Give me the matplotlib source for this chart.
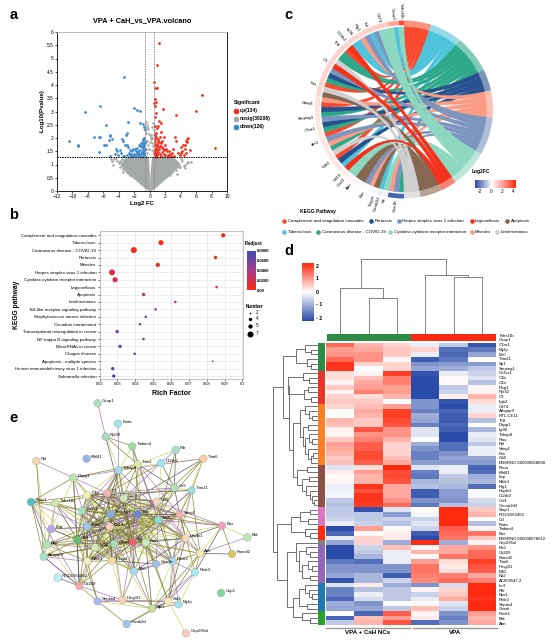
#script to rebuild the multi panel figure: volcano, KEGG bubbles, chord, heatmap and network.

from itertools import combinations

import numpy as np
import matplotlib
matplotlib.use("Agg")
import matplotlib.pyplot as plt
from matplotlib.colors import LinearSegmentedColormap
from matplotlib.path import Path
from matplotlib.patches import PathPatch, Wedge

plt.rcParams["font.family"] = ["Liberation Sans", "DejaVu Sans"]

W, H = 556, 642

# ---- a: volcano
up_x = [1.2, .95, .6, .65, .95, 6.7, .65, .87, .56, .65, 5.97, 1.77, 3.46, .75, .65, 1.2, 1.4, 1.1, .7, .95, 1.5, .87, 1.3, 1.86,
        3.33, 4.9, 4.76, 4.63, 3.38, 4.33, 4.55, 8.44, 5.2, 3.0, 2.0, 1.6, 1.1, .8, .7, 1.0, 1.3, 1.7, 2.2, 2.6, 3.7, 4.0, 4.2, 4.5, 4.1,
        3.9, 4.7, .65, .7, .75, .8, .9, 1.0, 1.1, 1.2, 1.35, 1.5, 1.6, 1.8, 2.0, 2.3, 2.5, 2.7, 2.9, .62, .68, .72, .85, .95, 1.05, 1.25,
        1.45, 1.55, 1.9, .6, .66, .78, .88, .98, 1.15, 2.1, 2.4, 3.1, 4.4, 4.8]
up_y = [5.57, 4.77, 4.1, 3.88, 3.87, 3.62, 3.48, 3.34, 3.32, 3.19, 3.03, 3.09, 2.88, 2.94, 2.79, 2.65, 2.56, 2.46, 2.46, 2.37, 2.24, 2.18, 2.05, 2.05,
        2.03, 2.0, 1.95, 1.87, 1.9, 1.74, 1.72, 1.61, 1.55, 1.6, 1.75, 1.9, 1.95, 2.05, 1.85, 1.75, 1.7, 1.6, 1.5, 1.4, 1.42, 1.45, 1.52, 1.6, 1.65,
        1.35, 1.45, 1.35, 1.5, 1.62, 1.42, 1.55, 1.35, 1.48, 1.58, 1.38, 1.32, 1.48, 1.38, 1.34, 1.35, 1.5, 1.33, 1.42, 1.72, 1.95, 2.1, 1.32, 1.68, 1.87, 1.84,
        1.8, 1.65, 1.55, 1.42, 1.6, 1.3, 1.78, 1.38, 1.66, 1.6, 1.32, 1.33, 1.34, 1.85]
down_x = [-3.3, -6.5, -8.35, -2.03, -1.6, -1.3, -5.7, -2.86, -1.3, -.87, -.8, -.65, -10.4, -9.3, -9.25, -7.27, -6.6, -6.5, -5.2, -5.1, -5.3,
          -4.9, -5.9, -5.7, -6.6, -5.2, -3.0, -3.1, -3.6, -3.4, -4.4, -4.3, -4.5, -4.1, -3.9, -3.7, -3.5, -3.2, -3.0, -2.8, -2.6, -2.4, -2.2,
          -2.0, -1.8, -1.6, -1.4, -1.2, -1.0, -.8, -.7, -.6, -.9, -1.1, -1.3, -1.5, -1.7, -1.9, -2.1, -2.3, -2.5, -2.7, -2.9, -3.3, -.65, -.75, -.85,
          -.95, -1.05, -.62, -.72, -.82, -.92, -1.02, -1.15, -.68, -.78, -.88, -1.25, -1.45, -2.05, -2.35, -1.55, -1.75, -.7, -.6, -.9]
down_y = [4.31, 3.19, 2.99, 3.13, 3.06, 3.01, 2.5, 2.6, 2.58, 2.53, 2.43, 2.33, 1.89, 1.73, 1.71, 2.05, 2.03, 2.03, 2.12, 2.06, 1.93,
          1.95, 1.74, 1.74, 1.49, 1.32, 2.2, 2.13, 1.97, 1.87, 1.6, 1.5, 1.4, 1.35, 1.55, 1.42, 1.32, 1.75, 1.72, 1.65, 1.55, 1.4, 1.6,
          1.35, 1.5, 1.62, 1.45, 1.55, 1.65, 1.4, 1.75, 1.9, 1.32, 1.38, 1.7, 1.35, 1.42, 1.58, 1.35, 1.5, 1.35, 1.45, 1.35, 1.33, 1.6, 1.55, 1.8,
          1.48, 1.72, 1.33, 1.46, 1.62, 1.87, 1.43, 1.82, 1.38, 1.68, 1.55, 1.32, 1.73, 1.4, 1.33, 1.52, 1.37, 2.0, 1.8, 1.95]
grey_x = [-.5, -.4, -.3, -.55, -.45, -.2, -.15, .1, .2, .3, .45, .5, .55, .35, .15, -.35, -.25, .25, .4, -.5, .5, -.1, .05, .3, -.3,
          -5.2, -5.0, -4.9, -4.6, -4.4, -4.2, -4.0, -4.7, -3.8, -3.6, -3.3, -3.1, -3.9, -3.4, -3.0, -2.8, -2.9,
          5.0, 4.8, 4.6, 4.4, 4.2, 4.0, 3.8, 3.6, 3.3, 3.1, 3.9, 3.4, 3.0, 2.8, 2.9, 2.6, -2.6, 4.5, 5.3,
          -2.2, -1.8, -1.4, -1.0, 1.0, 1.4, 1.8, 2.2, -3.5, 3.5, -2.4, 2.4]
grey_y = [2.62, 2.5, 2.42, 2.3, 2.2, 2.35, 2.15, 2.12, 2.05, 2.4, 2.55, 2.3, 2.15, 2.0, 1.95, 1.9, 1.75, 1.8, 1.7, 1.6, 1.5, 1.6, 1.85, 1.55, 1.45,
          1.28, 1.22, 1.15, 1.2, 1.25, 1.12, 1.05, 1.0, 1.15, 1.22, 1.08, 1.0, .9, .82, .92, .8, .72,
          1.08, 1.05, .98, .95, 1.12, 1.2, 1.0, .92, 1.05, .85, .9, .78, .82, .75, .7, .62, .62, .85, 1.1,
          1.27, 1.24, 1.28, 1.25, 1.26, 1.22, 1.28, 1.2, .7, .66, 1.1, 1.05]
# dense grey mass of the volcano, edges read at these heights
core_y = [0, .1, .25, .45, .65, .85, 1.05, 1.3]
core_left = [0, -.6, -1.2, -2.0, -2.9, -3.5, -3.9, -3.0]
core_left_in = [0, 0, 0, -.02, -.05, -.08, -.12, -.2]
core_right = [0, .6, 1.2, 2.0, 2.8, 3.4, 3.9, 3.0]
core_right_in = [0, 0, 0, .02, .05, .1, .15, .25]

# ---- b: KEGG bubbles
pathways_b = ["Complement and coagulation cascades", "Tuberculosis", "Coronavirus disease - COVID-19", "Pertussis", "Measles",
              "Herpes simplex virus 1 infection", "Cytokine-cytokine receptor interaction", "Legionellosis", "Apoptosis",
              "Leishmaniasis", "Toll-like receptor signaling pathway", "Staphylococcus aureus infection", "Circadian entrainment",
              "Transcriptional misregulation in cancer", "NF-kappa B signaling pathway", "MicroRNAs in cancer", "Chagas disease",
              "Apoptosis - multiple species", "Human immunodeficiency virus 1 infection", "Salmonella infection"]
rich_factor = [.0892, .0544, .0392, .0849, .0526, .0270, .0287, .0855, .0447, .0624, .0514, .0459, .0427, .0299, .0446, .0315, .0397, .0833, .0274, .0280]
padj = [.002, .003, .003, .006, .008, .017, .02, .022, .028, .04, .055, .058, .06, .062, .062, .066, .066, .07, .072, .075]
number = [5, 6, 7, 4, 5, 7, 6, 3, 4, 3, 3, 3, 3, 4, 3, 4, 3, 2, 4, 4]
number_legend = [2, 4, 5, 7]

# ---- c: chord
chord_names = ["Complement and coagulation cascades", "Tuberculosis", "Coronavirus disease - COVID-19", "Pertussis", "Measles",
               "Herpes simplex virus 1 infection", "Cytokine-cytokine receptor interaction", "Legionellosis", "Apoptosis", "Leishmaniasis"]
chord_keys = ["COM", "TUB", "COV", "PER", "MEA", "HER", "CYT", "LEG", "APO", "LEI"]
chord_colors = ["#F9492D", "#4DC4DC", "#2DA888", "#27508E", "#FA9C85", "#7C95BE", "#8DD8C0", "#F5301A", "#85674F", "#CFCFCF"]
draw_order = ["COM", "TUB", "COV", "PER", "MEA", "HER", "CYT", "APO", "LEI", "LEG"]
# links in gene order, clockwise from the bottom of the circle
gene_links = "COV HER MEA CYT TUB APO MEA HER APO APO CYT CYT LEG TUB PER COM LEI COV MEA HER COM COV PER HER COV PER COM MEA APO LEI COM COV PER HER LEG LEI COV COV COM LEG TUB TUB MEA HER TUB HER CYT CYT CYT TUB CYT".split()
gene_names = ["Gas1b", "Prl", "Camk2d", "Sugpn", "Bax", "Atm", "Cxcl1", "Cd14", "Itgb2", "dbr1", "C3ar1", "Serping1", "Sting1", "Fos", "C3",
              "Tlr8", "Il12rb2", "Ly96", "Rig1", "Tnf", "Cd74", "Casp1", "Tnfrsf1b"]
gene_counts = [3, 1, 1, 1, 3, 2, 1, 1, 5, 3, 2, 2, 3, 4, 5, 2, 1, 2, 1, 2, 3, 2, 1]
gene_fc = [-2.6, -.2, -.3, -.1, .1, .2, .3, .3, .5, .5, .5, .6, .6, .9, .9, .9, .8, .9, .8, 1.0, 1.0, 1.8, 3.6]

# ---- d: heatmap
heat_rows = [
    [1.4, .7, .4, -.2, -.6, -1.9], [.9, .8, .5, .4, -1.6, -1.5], [1.0, 1.0, .5, -.2, -1.7, -1.0], [1.4, 1.0, .05, -1.8, -1.5, 0],
    [1.9, .4, .4, -1.2, -1.1, -1.1], [1.9, 0, .4, -1, -.9, -.6], [.3, .1, 1.8, -1.9, -.2, -.5], [.3, .6, 1.2, -2, .05, -.3],
    [.1, .8, 1.2, -2, .05, -.7], [.5, .9, .9, -2, -.6, .1], [.1, 1.2, .9, -2, -.5, .1], [.4, .3, .7, -2, .15, .7],
    [.5, .5, .02, -1.2, -1.9, .3], [.4, .6, .9, -1.2, -2, -.2], [.02, .8, 1.8, -1.4, -1.7, -.2], [.02, .7, 1.8, -.9, -1.8, .4],
    [.7, .5, 1.7, -1.0, -1.8, -.7], [.6, .5, 1.6, -1.4, -1.7, 0], [.15, 1.6, 1.0, -.3, -1.8, -.8], [.1, 1.0, 1.0, -.3, -2, -.2],
    [.5, 1.2, .7, 0, -2, -.3], [.9, 1.5, .4, -.9, -1.6, -.6], [.8, 1.5, .4, -1.2, -1.6, -.2], [.7, 1.7, .4, -1.4, -1.2, -.2],
    [.5, 1.7, .6, -1.4, -1, -1], [.6, 1.5, .8, -1.1, -1.1, -1.1], [-.3, .3, 2, -.3, -.2, -1.7], [.2, .9, 1.7, -1.4, -.2, -1.6],
    [.05, .7, 1.7, -1.5, -.6, -.9], [.1, .7, 1.6, -.8, -.7, -.8], [-.2, 1.9, .8, -.7, -.8, -1.6], [-.15, 1.6, .8, -1.8, -1.1, 0],
    [-.1, 1.9, .8, -1.8, -1.1, -.05], [-.6, 1.9, 1.0, -1.2, -1.2, -.4], [-.7, 1.8, 1.4, -1.5, -.7, -.5], [-.6, -1.9, -.3, .05, 2, .5],
    [-.6, -.6, -1.1, -.1, 2, .7], [-.5, -.6, -.5, -.5, 2, .05], [-.2, -.5, -.7, -.3, 2, -.7], [-2, .9, .05, -.5, 1.5, .1],
    [-1.7, .05, .15, -1.8, 1.4, 1.3], [-.2, .4, .2, -2, 1.3, .5], [-1.0, .4, -.9, 2, -.9, .1], [-2, -.5, .6, .05, .8, 1.0],
    [-2, -.6, -.2, .7, .8, 1.4], [-2, -.8, -.2, .05, 1.3, 1.4], [-1.5, -1.6, -.2, .9, .3, 1.8], [-1.2, -1.2, -1.2, 1.3, .2, 1.6],
    [-1.2, -1.2, -1.2, 1.3, .3, 1.5], [-1, -.8, -1.8, 1.2, 1.2, .8], [-1.9, -.8, -.5, 1.1, 1.4, 1.2], [-.3, .2, -.9, -1.2, -.4, 2],
    [-1.4, -.7, -.6, .1, .4, 2], [-1.4, -.2, -.6, -.5, .5, 2], [-1.7, -.4, -.6, -.2, .8, 1.9], [-.9, -1.2, .02, .05, -.3, 2],
    [-1.0, -1.0, -.6, .6, -.5, 2], [.02, -1.7, 1.5, .1, -1.2, .9], [-1.7, .6, .9, .2, -1.4, .7], [-.6, .7, 1.6, -1.6, -1.2, .8],
]
heat_labels = ["Tnfrsf1b", "Casp1", "C3ar1", "Mylip", "Mlkl", "Trim21", "Sp1", "Serping1", "Cx3cr1", "C1b", "C4a", "Plxg1", "Rpl32", "C3", "Itgb2", "Cd74",
               "Arhgap9", "RT1-CE11", "Tlr8", "Dapp1", "Ly96", "Tnfaip8", "Plau", "Ppl", "Sting1", "Fos", "Cd4", "ENSRNOG00000068830", "Rhoa", "Klhl41", "Lbp",
               "Nfkb1", "Rig1", "Hapln1", "Il12rb2", "Cul1", "Cacna2d3", "Stap1", "RGD1565462", "Ccl", "Fmta", "Tmbim4", "Bax", "ENSRNOG00000078012", "Cep295nl",
               "Mx1", "Cd209", "Fancd2", "Trim6", "Hmg1l1", "Mfi1", "Nlt2", "AC058547.2", "Ier3", "Ptlr", "Nos1", "Prdx3", "Septin4", "Oasrk", "Rock1", "Btd", "Atm"]
group_names = ["VPA + CaH NCs", "VPA"]
side_colors = ["#2E8B45", "#E8352B", "#FF7F27", "#8C5246", "#DE73C0", "#FF2A10", "#7F7F7F", "#9467BD", "#1F77B4", "#2CA02C"]
side_sizes = [6, 7, 13, 9, 4, 3, 1, 8, 6, 3]

# trees as (height in px, left, right), leaves are column or row numbers
col_tree = (75, (46, 0, (36, 1, 2)), (59, 3, (57, 4, 5)))
g1 = (21, (12, 0, (6, 1, 2)), (10, 3, (6, 4, 5)))
g2 = (29, (14, 6, (8, 7, 8)), (13, (9, 9, 10), (6, 11, 12)))
g3 = (17, (12, 13, (8, 14, (5, 15, 16))), (14, (9, 17, 18), (12, (8, 19, (5, 20, 21)), (9, 22, (6, (4, 23, 24), 25)))))
g4 = (20, (10, 26, 27), (15, (8, 28, 29), (11, 30, (7, 31, (5, 32, (3, 33, 34))))))
g5 = (17, (7, 35, 36), (9, 37, 38))
g6 = (12, 39, (7, 40, 41))
g7 = (21, 42, (18, (11, 43, (7, 44, 45)), (15, (9, 46, (5, 47, 48)), (7, 49, 50))))
g8 = (18, (12, 51, (8, 52, (5, 53, 54))), (10, 55, 56))
g9 = (15, 57, (7, 58, 59))
row_tree = (44, (34, g1, (28, g2, (24, g3, g4))), (40, (26, g5, g6), (30, g7, (24, g8, g9))))

# ---- e: network, node places read in px of the picture crop
node_names = ["Gsap1", "Fmta", "Rpl30", "Tmbim4", "Pdr", "Trim6", "Ppl", "Klhl41", "Il12rb2", "Trim2", "Tnfaip8", "Dapp1", "Ca5", "Trim21", "C4b", "C3", "Cd74", "Mfi1",
              "Stap1", "Tnfrsf1b", "Cx3r1", "Serping1", "Tlnr", "Mx1", "Sting1", "Itgb2", "Cd14", "Bax", "Btd", "Lbp", "Tlr2", "Hapln1", "Nlrp", "Ly96", "C3ar1", "Tnf", "Fos",
              "Arhgap9", "Atm", "Fancd2", "Nfkb1", "Casp4", "Mlkl", "Gas1b", "Rock1", "Prdx3", "RGD1565462", "Cd209", "Usp1", "Septin4", "Hmg1l1", "Spi1", "Xaf1", "Mylip", "Camk2d", "Cep295nl"]
node_x = [293, 354, 317, 397, 527, 610, 109, 260, 483, 413, 356, 220, 523, 575, 261, 322, 371, 470, 93, 166, 246, 332, 413, 475, 539, 262, 329, 666, 742, 154, 232, 557, 140, 285, 343, 398, 437,
          131, 600, 696, 262, 335, 402, 468, 517, 585, 173, 238, 663, 293, 367, 456, 505, 536, 380, 558]
node_y = [10, 71, 110, 139, 150, 176, 183, 176, 189, 193, 211, 233, 263, 271, 286, 280, 295, 305, 306, 309, 332, 343, 343, 360, 344, 380, 380, 377, 412, 387, 420, 415, 434, 442, 432, 426, 428,
          470, 460, 462, 484, 482, 514, 492, 484, 517, 533, 558, 579, 604, 600, 626, 604, 613, 672, 700]
node_colors = ["#A9E0C0", "#A5E3EC", "#A8DDBB", "#9EDC9E", "#A8E0CC", "#F9CFA8", "#F9D6B0", "#9AB0E8", "#A6E2EE", "#DDE8A8", "#A8D8F0", "#BEE3B0", "#ADE0B8", "#9FDCD8", "#F6F0B0", "#F5B5B5", "#CDE8B8", "#F8D4C0",
               "#4FBFC0", "#CDE8B0", "#A8E0C4", "#88B0DC", "#6C84D4", "#88E0D4", "#F5B0B0", "#A0C8F0", "#F8CFB8", "#F2A0C0", "#B8E8B0", "#B8A8E8", "#60C070", "#F8D8B8", "#B0E4B8", "#D0E8B8", "#A8DDB8", "#F06070", "#C8EAC0",
               "#A8E0C8", "#FAE8B0", "#D8C860", "#EEEEC0", "#F8D8A0", "#A8D8F0", "#A0C0E8", "#A8D8F0", "#A8E8F0", "#B8F0F4", "#F8A8A8", "#80D898", "#A8B8E8", "#F8CDB0", "#C8DE98", "#F8E8B8", "#A8E0F0", "#A0C0EC", "#F8CDC0"]
core_nodes = ["C3", "C4b", "Cd74", "Cx3r1", "Serping1", "Tlnr", "Mx1", "Itgb2", "Cd14", "Tlr2", "Ly96", "C3ar1", "Tnf", "Fos", "Mfi1", "Sting1", "Nfkb1", "Casp4"]
spokes = {
    "Gsap1": ["Rpl30"], "Rpl30": ["Tmbim4", "Tnfaip8", "Tnf", "Trim2"], "Fmta": ["Tnfaip8"], "Tmbim4": ["Tnfaip8", "Fos", "Trim2", "Mx1"],
    "Pdr": ["Trim2", "Ca5", "Mx1", "Il12rb2"], "Trim6": ["Il12rb2", "Trim21", "Tnfaip8", "Mfi1", "Sting1", "Itgb2", "Tnf"], "Ppl": ["Dapp1", "Nlrp", "Arhgap9"],
    "Dapp1": ["Tnfaip8", "Trim2", "Lbp", "Cd209", "Tnf", "C3", "Cd14", "Stap1", "Itgb2", "Tlr2"], "Trim2": ["Tnfaip8", "Ca5", "Cd14", "Sting1", "Fos", "Tnf", "Mx1", "C3"],
    "Il12rb2": ["Tnfaip8", "Ca5", "C3", "Cd74", "Mx1"], "Tnfaip8": ["C3", "Itgb2", "Cd14", "Tlnr", "Ly96", "Tlr2", "Cx3r1", "C4b", "Tnf", "Hapln1", "Mlkl"],
    "Ca5": ["Trim21", "Sting1", "Mx1", "C3", "Tnf", "Mfi1", "Cd74"], "Trim21": ["Sting1", "C3", "C4b", "Tnf", "Mx1", "Xaf1", "Atm", "Rock1"],
    "Stap1": ["Tnfrsf1b", "Lbp", "Nlrp", "Arhgap9", "Itgb2", "Tlr2", "Serping1", "Cd209", "C4b"], "Tnfrsf1b": ["Itgb2", "Tlr2", "Tnf", "Lbp", "C3ar1", "Cx3r1", "Ly96", "C3", "Nlrp"],
    "Lbp": ["Tlr2", "Itgb2", "Cd14", "Nlrp", "Ly96", "Arhgap9"], "Nlrp": ["Tlr2", "Arhgap9", "Cd14", "Itgb2", "Tnf", "Cd209", "Nfkb1", "Ly96", "Fos", "C3ar1"],
    "Arhgap9": ["Cd209", "Tlr2", "Septin4", "Itgb2", "Ly96", "Nfkb1", "Tnf"], "Cd209": ["Septin4", "Tlr2", "Itgb2", "Nfkb1", "Cd14", "Tnf", "Hmg1l1", "C3ar1", "Ly96"],
    "RGD1565462": ["Cd209"], "Septin4": ["Camk2d", "Hmg1l1", "Spi1", "Nfkb1", "Xaf1", "Tlr2"], "Camk2d": ["Spi1", "Xaf1"], "Hmg1l1": ["Spi1", "Tnf", "Casp4", "Xaf1", "C3ar1", "Mlkl", "Cd14"],
    "Spi1": ["Xaf1", "Mylip", "Prdx3", "Rock1", "Atm", "Mlkl", "Tnf", "C3ar1", "Fos"], "Xaf1": ["Mylip", "Prdx3", "Rock1", "Atm", "Sting1", "Fos", "Cep295nl", "Hapln1", "Tlnr"],
    "Mylip": ["Rock1", "Prdx3"], "Prdx3": ["Atm", "Rock1", "Sting1", "Hapln1", "Bax"], "Rock1": ["Atm", "Hapln1", "Sting1", "Mfi1", "Tnf", "Fos", "Gas1b", "Mx1", "Cd14", "Mlkl", "C3ar1", "Tlnr", "C3"],
    "Atm": ["Hapln1", "Bax", "Fancd2", "Sting1", "Mx1", "Tnf", "Fos", "Btd"], "Fancd2": ["Bax"], "Bax": ["Btd", "Hapln1", "Sting1", "Mx1", "Tnf", "Tlnr", "Mfi1"],
    "Hapln1": ["Sting1", "Mx1", "Tnf", "Fos", "Mfi1", "Tlnr", "C3", "Cd74", "Serping1", "Cd14"], "Mlkl": ["Tnf", "Fos", "C3ar1", "Ly96", "Casp4", "Tlnr", "Itgb2", "Mx1", "Hapln1", "Serping1", "Gas1b"],
    "Gas1b": ["Tnf", "Fos", "Mx1", "C3", "Tlnr", "Casp4"], "Klhl41": [],
}
edge_colors = ["#7c7c28", "#a070b0", "#7c7c28", "#c6d65a", "#505050", "#7c7c28", "#a070b0", "#c6d65a"]

# ---- shared colours
heat_cmap = LinearSegmentedColormap.from_list("heat", ["#2A4CA8", "#FFFFFF", "#FF2A10"])
padj_cmap = LinearSegmentedColormap.from_list("padj", ["#FF2A10", "#A83A8C", "#3A4FB0"])
fc_cmap = LinearSegmentedColormap.from_list("fc", [(0, "#2A4CA8"), (3 / 7.3, "#FFFFFF"), (1, "#FF2A10")])


def px_axes(x0, y0, x1, y1, **kw):
    # axes from picture pixels, y measured from the top
    return fig.add_axes([x0 / W, 1 - y1 / H, (x1 - x0) / W, (y1 - y0) / H], **kw)


def draw_tree(node, leaf_pos, segs):
    # returns (position, height) of a node and collects the bracket lines
    if not isinstance(node, tuple):
        return leaf_pos(node), 0
    h, left, right = node
    p0, h0 = draw_tree(left, leaf_pos, segs)
    p1, h1 = draw_tree(right, leaf_pos, segs)
    segs.append(([p0, p0, p1, p1], [h0, h, h, h1]))
    return (p0 + p1) / 2, h


fig = plt.figure(figsize=(W / 100, H / 100), dpi=100)

# overlay in picture pixels for letters, legends, chord and trees
ov = fig.add_axes([0, 0, 1, 1], zorder=5)
ov.set_xlim(0, W)
ov.set_ylim(H, 0)
ov.axis("off")
ov.patch.set_alpha(0)

for letter, lx, ly in [("a", 14, 15), ("b", 14, 215), ("c", 288, 15), ("d", 289, 251), ("e", 14, 418)]:
    ov.text(lx, ly, letter, fontsize=10.5, fontweight="bold", ha="center", va="center")

# ---- panel a
ax = px_axes(57, 32, 227, 191)
ax.fill_betweenx(core_y, core_left, core_left_in, color="#A5A9A5", lw=0)
ax.fill_betweenx(core_y, core_right_in, core_right, color="#A5A9A5", lw=0)
ax.scatter(grey_x, grey_y, s=3.5, color="#A5A9A5", lw=0)
ax.scatter(up_x, up_y, s=4, color="#F5301E", lw=0, zorder=3)
ax.scatter(down_x, down_y, s=4, color="#3E8CD0", lw=0, zorder=3)
ax.axhline(1.3, color="black", lw=.7, ls=(0, (1.5, 1)), zorder=4)
for vx in [-.585, .585]:
    ax.axvline(vx, color="#8c8c8c", lw=.7, ls=(0, (1.5, 1)), zorder=4)
ax.set_xlim(-12, 10)
ax.set_ylim(0, 6)
ax.set_xticks(range(-12, 11, 2))
ax.set_yticks(np.arange(0, 6.1, .5))
ax.set_yticklabels(["0", "0.5", "1", "1.5", "2", "2.5", "3", "3.5", "4", "4.5", "5", "5.5", "6"])
ax.tick_params(labelsize=3.5, length=1.5, width=.5, pad=1)
ax.spines["top"].set_color("#b0b0b0")
for s in ax.spines.values():
    s.set_linewidth(.6)
ax.set_xlabel("Log2 FC", fontsize=4.3, fontweight="bold", labelpad=1)
ax.set_ylabel("-Log10(Pvalue)", fontsize=4.4, fontweight="bold", labelpad=1.5)
ax.set_title("VPA + CaH_vs_VPA.volcano", fontsize=5.3, fontweight="bold", pad=7)
ov.text(234, 102.5, "Significant", fontsize=3.7, fontweight="bold", va="center")
for ly, lab, col in [(110.5, "up(134)", "#F5301E"), (118.5, "nosig(38208)", "#A5A9A5"), (126.5, "down(126)", "#3E8CD0")]:
    ov.scatter([236], [ly], s=17, color=col, lw=0)
    ov.text(240, ly, lab, fontsize=3.6, fontweight="bold", va="center")

# ---- panel b
ax = px_axes(99.5, 231, 242.5, 379)
y_rows = np.arange(len(pathways_b))
ax.scatter(rich_factor, y_rows, s=[(n * .86 * .72) ** 2 for n in number], c=padj, cmap=padj_cmap, vmin=0, vmax=.08, lw=0, zorder=3)
ax.set_xlim(.02, .10)
ax.set_ylim(19.4, -.58)
ax.set_yticks(y_rows)
ax.set_yticklabels(pathways_b)
ax.set_xticks(np.arange(.02, .101, .01))
ax.set_xticklabels(["0.02", "0.03", "0.04", "0.05", "0.06", "0.07", "0.08", "0.09", "0.1"])
ax.tick_params(axis="y", labelsize=3.15, length=1.5, width=.4, pad=.8)
ax.tick_params(axis="x", labelsize=2.9, length=1.5, width=.4, pad=1)
ax.grid(color="#e6e6e6", lw=.5)
ax.set_axisbelow(True)
for s in ax.spines.values():
    s.set_color("#aaaaaa")
    s.set_linewidth(.5)
ax.set_xlabel("Rich Factor", fontsize=5, fontweight="bold", labelpad=2.5)
ax.text(-.577, .5, "KEGG pathway", transform=ax.transAxes, rotation=90, fontsize=4.8, fontweight="bold", ha="center", va="center")
ov.text(245, 243, "P.adjust", fontsize=3.3, fontweight="bold", va="center")
cb = px_axes(246.7, 250.5, 255, 290.5)
cb.imshow(np.linspace(1, 0, 100)[:, None], cmap=padj_cmap, aspect="auto")
cb.axis("off")
for ly, lab in [(250.5, "0.0800"), (260.5, "0.0600"), (270.5, "0.0400"), (281, "0.0200"), (291, "0.00")]:
    ov.text(256.5, ly, lab, fontsize=3.1, fontweight="bold", va="center")
ov.text(255, 307, "Number", fontsize=3.3, fontweight="bold", ha="center", va="center")
for n, ly in zip(number_legend, [313, 319, 325.5, 333.5]):
    ov.scatter([249.5], [ly], s=(n * .86 * .72) ** 2, color="black", lw=0)
    ov.text(256, ly, str(n), fontsize=3.3, va="center")

# ---- panel c
cx, cy = 404, 109.5
r_in, r_ring, r_out = 82.5, 83.5, 89
sweep = 180 / len(gene_links)


def polar(angle, r):
    # angle in degrees clockwise from the top
    a = np.radians(angle)
    return cx + r * np.sin(a), cy - r * np.cos(a)


def ring_patch(a0, a1, r0, r1, color, alpha=1):
    # y axis of the overlay points down, so clockwise angles grow directly
    ov.add_patch(Wedge((cx, cy), r1, a0 - 90, a1 - 90, width=r1 - r0, facecolor=color, alpha=alpha, lw=0))


counts = [gene_links.count(k) for k in chord_keys]
starts = np.cumsum([0] + counts) * sweep
next_slot = {k: starts[i + 1] for i, k in enumerate(chord_keys)}
for i, k in enumerate(chord_keys):
    ring_patch(starts[i], starts[i + 1], r_in, r_out, chord_colors[i], alpha=.6)

ribbons = []
for i, k in enumerate(gene_links):
    g0 = 180 + i * sweep
    g1 = g0 + sweep
    next_slot[k] -= sweep
    p0 = next_slot[k]
    p1 = p0 + sweep
    # both rim ends leave radially, so neighbouring links stay together near the rim
    r_c = r_in * .3
    verts, codes = [polar(g0, r_in)], [Path.MOVETO]
    for a in np.linspace(g0, g1, 5)[1:]:
        verts.append(polar(a, r_in))
        codes.append(Path.LINETO)
    verts += [polar(g1, r_c), polar(p0, r_c), polar(p0, r_in)]
    codes += [Path.CURVE4] * 3
    for a in np.linspace(p0, p1, 9)[1:]:
        verts.append(polar(a, r_in))
        codes.append(Path.LINETO)
    verts += [polar(p1, r_c), polar(g0, r_c), polar(g0, r_in)]
    codes += [Path.CURVE4] * 3
    ribbons.append((draw_order.index(k), k, verts, codes))

for _, k, verts, codes in sorted(ribbons, key=lambda item: item[0]):
    col = chord_colors[chord_keys.index(k)]
    ov.add_patch(PathPatch(Path(verts, codes), facecolor=col, edgecolor=col, lw=.35))

pos = 180.0
for name, n, fc in zip(gene_names, gene_counts, gene_fc):
    a0, a1 = pos, pos + n * sweep
    ring_patch(a0, a1, r_ring + .8, r_out, fc_cmap((fc + 3) / 7.3))
    mid = (a0 + a1) / 2
    lx, ly = polar(mid, r_out + 1.5)
    ov.text(lx, ly, name, fontsize=3.1, rotation=270 - mid, rotation_mode="anchor", ha="right", va="center")
    pos = a1

ov.text(472, 171, "Log2FC", fontsize=3.5, fontweight="bold", va="center")
cb = px_axes(475, 179.5, 516, 187.5)
cb.imshow(np.linspace(0, 1, 100)[None, :], cmap=fc_cmap, aspect="auto")
cb.axis("off")
for t in [-2, 0, 2, 4]:
    ov.text(479.5 + (t + 2) * 5.6, 191.5, str(t), fontsize=3.4, ha="center", va="center")
ov.text(300, 212, "KEGG Pathway", fontsize=3.5, fontweight="bold", va="center")
legend_rows = [(221, [("COM", 284), ("PER", 371), ("HER", 399), ("LEG", 471.5), ("APO", 507)]),
               (232, [("TUB", 284), ("COV", 318), ("CYT", 390), ("MEA", 471.5), ("LEI", 497)])]
for ly, items in legend_rows:
    for k, lx in items:
        i = chord_keys.index(k)
        ov.scatter([lx], [ly], s=11, color=chord_colors[i], lw=0)
        ov.text(lx + 3.5, ly, chord_names[i], fontsize=3.15, va="center")

# ---- panel d
hx0, hx1, hy0, hy1 = 326, 496, 342.7, 625
heat = np.array(heat_rows)
ax = px_axes(hx0, hy0, hx1, hy1)
ax.pcolormesh(heat[::-1], cmap=heat_cmap, vmin=-2, vmax=2)
ax.axis("off")
row_h = (hy1 - hy0) / heat.shape[0]
col_w = (hx1 - hx0) / heat.shape[1]
ov.add_patch(plt.Rectangle((hx0 + 1, 334.3), (hx1 - hx0) / 2 - 1, 6.7, color="#2E8B45", lw=0))
ov.add_patch(plt.Rectangle(((hx0 + hx1) / 2, 334.3), (hx1 - hx0) / 2, 6.7, color="#FF2A10", lw=0))

segs = []
draw_tree(col_tree, lambda c: hx0 + (c + .5) * col_w, segs)
for xs, hs in segs:
    ov.plot(xs, [334.3 - h for h in hs], color="#6e6e6e", lw=.6, solid_joinstyle="miter")
segs = []
draw_tree(row_tree, lambda r: hy0 + (r + .5) * row_h, segs)
for ys, hs in segs:
    ov.plot([316.7 - h for h in hs], ys, color="#5a5a5a", lw=.6, solid_joinstyle="miter")

top = hy0
for col, n in zip(side_colors, side_sizes):
    ov.add_patch(plt.Rectangle((318, top), 6.7, n * row_h, color=col, lw=0))
    top += n * row_h

for i, lab in enumerate(heat_labels):
    ov.text(499, 335.7 + i * 4.72, lab, fontsize=3.05, va="center")

cb = px_axes(301.7, 263.3, 313.3, 320.7)
cb.imshow(np.linspace(1, 0, 100)[:, None], cmap=heat_cmap, aspect="auto")
cb.axis("off")
for t, ly in zip([2, 1, 0, -1, -2], [266, 278.7, 292, 305, 318]):
    ov.text(316, ly, str(t) if t >= 0 else f"- {abs(t)}", fontsize=3.8, fontweight="bold", va="center")

for (x0, x1), name in zip([(326, 410), (412.5, 497)], group_names):
    ov.plot([x0, x1], [627.5, 627.5], color="#9a9a9a", lw=1)
    ov.text((x0 + x1) / 2, 633, name, fontsize=4.4, fontweight="bold", ha="center", va="center")

# ---- panel e
ax = px_axes(0, 395, 280, 642)
ax.set_xlim(0, 840)
ax.set_ylim(726, -15)
ax.axis("off")
place = {n: (x, y) for n, x, y in zip(node_names, node_x, node_y)}
edges = list(combinations(core_nodes, 2))
for hub, others in spokes.items():
    edges += [(hub, o) for o in others]
for i, (n0, n1) in enumerate(edges):
    ax.plot([place[n0][0], place[n1][0]], [place[n0][1], place[n1][1]], color=edge_colors[i % len(edge_colors)], lw=.5, alpha=.9, zorder=1)
ax.scatter(node_x, node_y, s=30, c=node_colors, edgecolors="#8a9a9a", linewidths=.25, zorder=2)
for n, x, y in zip(node_names, node_x, node_y):
    ax.text(x + 13, y - 6, n, fontsize=3.05, va="center", zorder=3)

fig.savefig("out.png", dpi=100)
